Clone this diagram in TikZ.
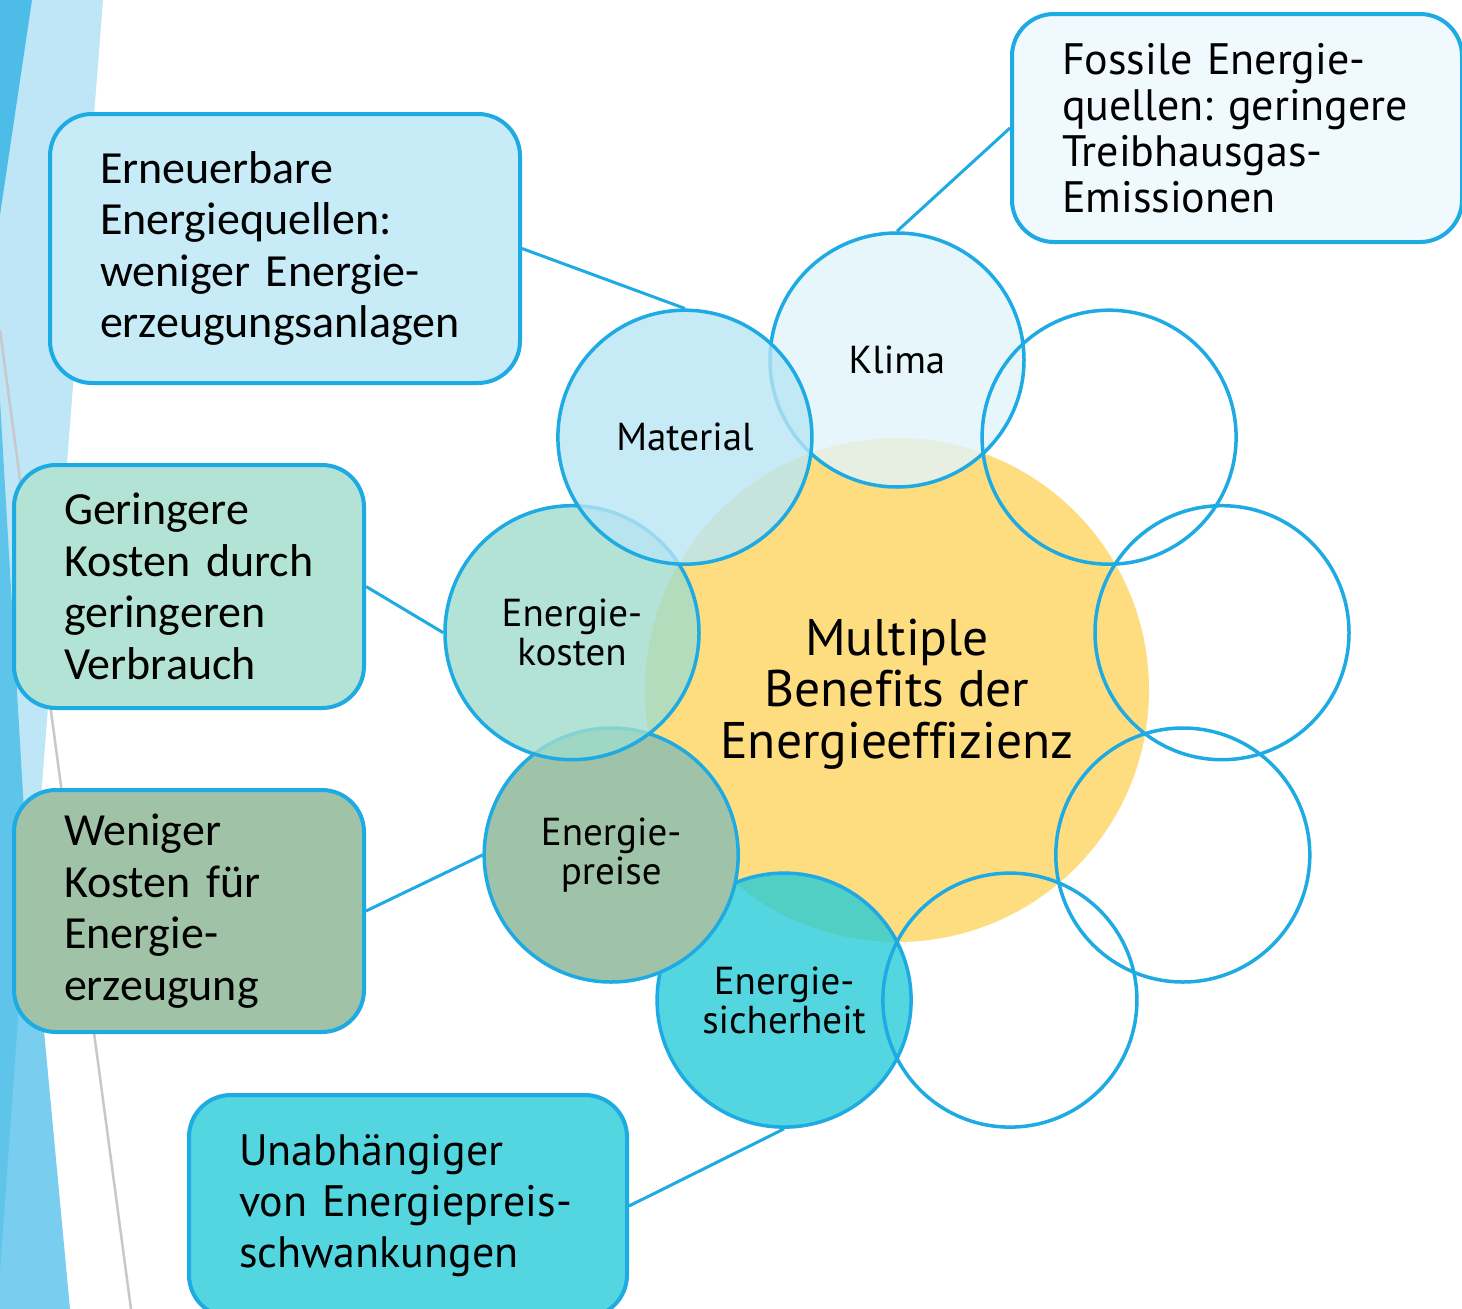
\documentclass[tikz,border=0pt]{standalone}
\usepackage{fontspec}
\setmainfont{PT Sans}[Ligatures=NoCommon]
\newfontfamily\calfont{Carlito}
\definecolor{ebl}{RGB}{30,170,226}
\definecolor{yel}{RGB}{254,221,128}
\definecolor{bgdark}{RGB}{77,189,232}
\definecolor{bgmed}{RGB}{94,196,234}
\definecolor{bglight}{RGB}{190,230,247}
\definecolor{bglighter}{RGB}{121,205,239}
\definecolor{greyline}{RGB}{200,200,200}
\definecolor{cKlima}{RGB}{224,244,250}
\definecolor{cMat}{RGB}{184,229,244}
\definecolor{cEk}{RGB}{160,220,204}
\definecolor{cEp}{RGB}{159,195,169}
\definecolor{cEs}{RGB}{40,204,215}
\definecolor{bA}{RGB}{200,236,247}
\definecolor{bB}{RGB}{240,249,253}
\definecolor{bC}{RGB}{179,227,212}
\definecolor{bD}{RGB}{160,195,168}
\definecolor{bE}{RGB}{83,214,224}
\frenchspacing
\begin{document}
\begin{tikzpicture}[x=1pt,y=-1pt,
  bord/.style={line width=4pt, draw=ebl, rounded corners=42pt, inner xsep=50pt, inner ysep=0pt, align=left, anchor=north west},
  calt/.style={font=\calfont\fontsize{46}{51.5}\selectfont},
  trbt/.style={font=\fontsize{44}{46}\selectfont},
  sat/.style={circle, inner sep=0pt, minimum size=254pt, draw=ebl, line width=3.5pt, fill opacity=0.8, text opacity=1, align=center, font=\fontsize{39}{39}\selectfont},
  emp/.style={circle, inner sep=0pt, minimum size=254pt, draw=ebl, line width=3.5pt},
  con/.style={draw=ebl, line width=3pt}]
\useasboundingbox (0,0) rectangle (1462,1309);
% background decoration
\fill[white] (0,0) rectangle (1462,1309);
\fill[bglight] (0,0) -- (103,0) -- (33,900) -- (0,900) -- cycle;
\fill[bglighter] (0,560) -- (70,1309) -- (0,1309) -- cycle;
\fill[bgmed] (0,400) -- (28,880) -- (0,1270) -- cycle;
\fill[bgdark] (0,0) -- (32,0) -- (0,215) -- cycle;
\draw[greyline, line width=2.5pt] (0,330) -- (131,1309);
% central circle
\node[circle, inner sep=0pt, minimum size=504pt, fill=yel] (mb) at (897,690) {};
\node[align=center, font=\fontsize{51.5}{51.5}\selectfont] (mbt) at (897,694) {Multiple\\Benefits der\\Energieeffizienz};
% satellites
\node[sat, fill=cKlima] (kl) at (897,360) {Klima};
\node[sat, fill=cEs] (es) at (784.1,1000.1) {Energie-\\sicherheit};
\node[sat, fill=cEp, fill opacity=1] (ep) at (611.2,855) {Energie-\\preise};
\node[sat, fill=cEk] (ek) at (572,632.7) {Energie-\\kosten};
\node[sat, fill=cMat] (ma) at (684.9,437.2) {Material};
\node[emp] (e1) at (1009.9,1000.1) {};
\node[emp] (e2) at (1182.8,855) {};
\node[emp] (e3) at (1222,632.7) {};
\node[emp] (e4) at (1109.1,437.2) {};
% boxes
\node[bord, calt, fill=bA, text width=370pt, minimum height=269pt] (bern) at (48,112) {Erneuerbare\\Energiequellen:\\weniger Energie-\\erzeugungsanlagen};
\node[bord, trbt, fill=bB, text width=350pt, minimum height=228pt] (bfos) at (1010,12) {Fossile Energie-\\quellen: geringere\\Treibhausgas-\\Emissionen};
\node[bord, calt, fill=bC, text width=250pt, minimum height=243pt] (bger) at (12,463) {Geringere\\Kosten durch\\geringeren\\Verbrauch};
\node[bord, calt, fill=bD, text width=250pt, minimum height=242pt] (bwen) at (12,788) {Weniger\\Kosten für\\Energie-\\erzeugung};
\node[bord, font=\fontsize{44}{51}\selectfont, fill=bE, text width=338pt, minimum height=222pt] (bunb) at (187,1093) {Unabhängiger\\von Energiepreis-\\schwankungen};
% connectors
\draw[con] (bern.east) -- (ma.north);
\draw[con] (bfos.west) -- (kl.north);
\draw[con] (bger.east) -- (ek.west);
\draw[con] (bwen.east) -- (ep.west);
\draw[con] (bunb.east) -- (es.south);
\end{tikzpicture}
\end{document}
